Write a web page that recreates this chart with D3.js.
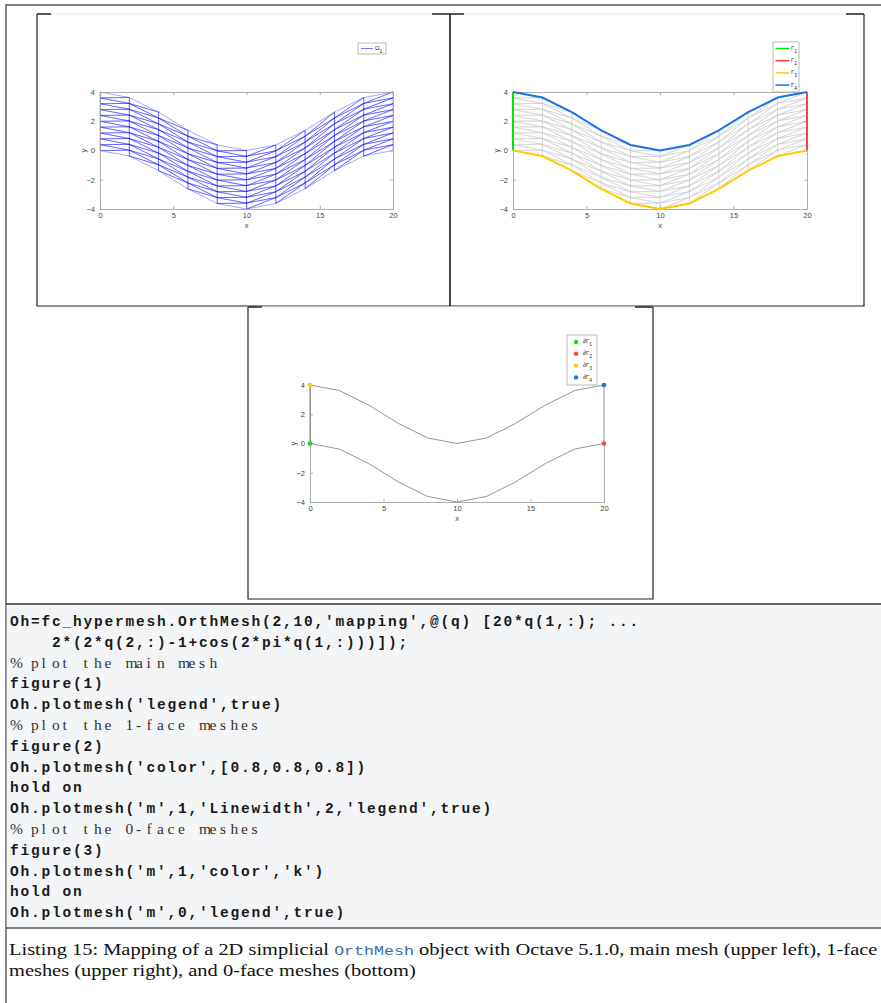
<!DOCTYPE html>
<html><head><meta charset="utf-8">
<script src="https://cdn.jsdelivr.net/npm/d3@7"></script>
<style>body{margin:0;background:#fff}svg{display:block}</style>
</head><body>
<svg id="c" width="881" height="1003"></svg>
<script>
// ---------- data ----------
const xNodes = [0, 2, 4, 6, 8, 10, 12, 14, 16, 18, 20];
const bottomY = [0, -0.38, -1.38, -2.62, -3.62, -4, -3.62, -2.62, -1.38, -0.38, 0];
const layerOffsets = [0, 0.4, 0.8, 1.2, 1.6, 2.0, 2.4, 2.8, 3.2, 3.6, 4.0];
const xTicks = [0, 5, 10, 15, 20];
const yTicks = [-4, -2, 0, 2, 4];
const faceSubs = ["1", "2", "3", "4"];
const faceColors = ["#00e600", "#ff4040", "#ffcc00", "#1a72e8"];
const pointX = [0, 20, 0, 20];
const pointY = [0, 0, 4, 4];
const codeLines = [
  "Oh=fc_hypermesh.OrthMesh(2,10,'mapping',@(q) [20*q(1,:); ...",
  "    2*(2*q(2,:)-1+cos(2*pi*q(1,:)))]);",
  "% plot the main mesh",
  "figure(1)",
  "Oh.plotmesh('legend',true)",
  "% plot the 1-face meshes",
  "figure(2)",
  "Oh.plotmesh('color',[0.8,0.8,0.8])",
  "hold on",
  "Oh.plotmesh('m',1,'Linewidth',2,'legend',true)",
  "% plot the 0-face meshes",
  "figure(3)",
  "Oh.plotmesh('m',1,'color','k')",
  "hold on",
  "Oh.plotmesh('m',0,'legend',true)"
];
const captionA = "Listing 15: Mapping of a 2D simplicial ";
const captionCode = "OrthMesh";
const captionB = " object with Octave 5.1.0, main mesh (upper left), 1-face";
const captionLine2 = "meshes (upper right), and 0-face meshes (bottom)";

// ---------- helpers ----------
const svg = d3.select("#c");
const nodeY = (i, j) => bottomY[i] + layerOffsets[j];
const triangles = [];
for (let i = 0; i < xNodes.length - 1; i++) {
  for (let j = 0; j < layerOffsets.length - 1; j++) {
    triangles.push([[i, j], [i + 1, j], [i + 1, j + 1]]);
    triangles.push([[i, j], [i + 1, j + 1], [i, j + 1]]);
  }
}
const fontSans = "Liberation Sans, Arial, sans-serif";

function makeScales(x0, x1, yTop, yBot) {
  return {
    x: d3.scaleLinear().domain([0, 20]).range([x0, x1]),
    y: d3.scaleLinear().domain([-4, 4]).range([yBot, yTop])
  };
}

function axes(g, s, opts) {
  const axCol = "#9a9a9a";
  const ax = g.append("g");
  const styleAx = sel => {
    sel.select(".domain").attr("stroke", axCol).attr("stroke-width", 0.8);
    sel.selectAll(".tick line").attr("stroke", axCol).attr("stroke-width", 0.8);
    sel.selectAll(".tick text").attr("fill", "#444").attr("font-size", 7.5)
      .attr("font-family", fontSans);
  };
  const [y0, y1] = s.y.range();
  const [x0, x1] = s.x.range();
  ax.append("g").attr("transform", `translate(0,${y0})`)
    .call(d3.axisBottom(s.x).tickValues(xTicks).tickSize(-3).tickPadding(4).tickSizeOuter(0))
    .call(styleAx);
  ax.append("g").attr("transform", `translate(${x0},0)`)
    .call(d3.axisLeft(s.y).tickValues(yTicks).tickSize(-3).tickPadding(5).tickSizeOuter(0))
    .call(styleAx);
  if (opts.box) {
    ax.append("g").attr("transform", `translate(0,${y1})`)
      .call(d3.axisTop(s.x).tickValues(xTicks).tickSize(-3).tickFormat("").tickSizeOuter(0))
      .call(styleAx);
  }
  ax.append("g").attr("transform", `translate(${x1},0)`)
    .call(d3.axisRight(s.y).tickValues(yTicks).tickSize(opts.box ? -3 : 0).tickFormat("").tickSizeOuter(0))
    .call(styleAx);
  g.append("text").attr("x", (x0 + x1) / 2).attr("y", y0 + 19).attr("text-anchor", "middle")
    .attr("font-size", 7.5).attr("fill", "#444").attr("font-family", fontSans).text("x");
  g.append("text").attr("transform", `translate(${x0 - 14},${(y0 + y1) / 2}) rotate(-90)`)
    .attr("text-anchor", "middle").attr("font-size", 7.5).attr("fill", "#444")
    .attr("font-family", fontSans).text("y");
}

function drawMesh(g, s, color, opacity, width) {
  const line = d3.line().x(d => s.x(xNodes[d[0]])).y(d => s.y(nodeY(d[0], d[1])));
  g.append("g").selectAll("path").data(triangles).join("path")
    .attr("d", t => line(t) + "Z")
    .attr("fill", "none").attr("stroke", color)
    .attr("stroke-opacity", opacity).attr("stroke-width", width);
}

function panelFrame(x0, y0, x1, y1) {
  const g = svg.append("g");
  g.append("path").attr("d", `M${x0},${y0}V${y1}H${x1}V${y0}`)
    .attr("fill", "none").attr("stroke", "#222").attr("stroke-width", 1.2);
  g.append("line").attr("x1", x0).attr("x2", x1).attr("y1", y0).attr("y2", y0)
    .attr("stroke", "#e8e8e8").attr("stroke-width", 1);
  g.append("path").attr("d", `M${x0},${y0}H${x0 + 14}M${x1 - 18},${y0}H${x1}`)
    .attr("stroke", "#222").attr("stroke-width", 1.6);
}

// ---------- page frame ----------
svg.append("path").attr("d", "M6,1003V5H881").attr("fill", "none")
  .attr("stroke", "#555").attr("stroke-width", 1.4);

panelFrame(37, 14, 450, 306);
panelFrame(450, 14, 864, 306);
panelFrame(248, 307, 653, 599);

// ---------- figure 1 ----------
{
  const s = makeScales(100, 393, 92, 209);
  const g = svg.append("g");
  drawMesh(g, s, "#0000ff", 0.5, 0.7);
  axes(g, s, {box: true});
  const lg = g.append("g");
  lg.append("rect").attr("x", 358).attr("y", 43).attr("width", 28).attr("height", 11)
    .attr("fill", "#fff").attr("stroke", "#aaa").attr("stroke-width", 0.8);
  lg.append("line").attr("x1", 361).attr("x2", 373).attr("y1", 48.5).attr("y2", 48.5)
    .attr("stroke", "#5555ff").attr("stroke-width", 0.8);
  const t = lg.append("text").attr("x", 375).attr("y", 50).attr("font-size", 6)
    .attr("font-family", fontSans).attr("fill", "#333");
  t.append("tspan").text("Ω");
  t.append("tspan").attr("dy", 2.5).attr("font-size", 5).text("1");
}

// ---------- figure 2 ----------
{
  const s = makeScales(513, 807, 92, 209);
  const g = svg.append("g");
  drawMesh(g, s, "#cccccc", 0.75, 0.7);
  axes(g, s, {box: true});
  const line = d3.line().x(d => s.x(d[0])).y(d => s.y(d[1]));
  const faces = [
    layerOffsets.map((o, j) => [xNodes[0], nodeY(0, j)]),
    layerOffsets.map((o, j) => [xNodes[xNodes.length - 1], nodeY(xNodes.length - 1, j)]),
    xNodes.map((x, i) => [x, nodeY(i, 0)]),
    xNodes.map((x, i) => [x, nodeY(i, layerOffsets.length - 1)])
  ];
  g.append("g").selectAll("path").data(faces).join("path")
    .attr("d", d => line(d)).attr("fill", "none")
    .attr("stroke", (d, i) => faceColors[i]).attr("stroke-width", 2);
  const lg = g.append("g");
  lg.append("rect").attr("x", 773).attr("y", 42).attr("width", 26).attr("height", 50)
    .attr("fill", "#fff").attr("stroke", "#aaa").attr("stroke-width", 0.8);
  faceSubs.forEach((sub, i) => {
    const yy = 48.5 + i * 12.2;
    lg.append("line").attr("x1", 775.5).attr("x2", 789.5).attr("y1", yy).attr("y2", yy)
      .attr("stroke", faceColors[i]).attr("stroke-width", 1.5);
    const t = lg.append("text").attr("x", 791).attr("y", yy + 1.5).attr("font-size", 6)
      .attr("font-family", fontSans).attr("fill", "#333");
    t.append("tspan").text("Γ");
    t.append("tspan").attr("dy", 3).attr("font-size", 5).text(sub);
  });
}

// ---------- figure 3 ----------
{
  const s = makeScales(310, 604, 385, 502);
  const g = svg.append("g");
  axes(g, s, {box: false});
  const line = d3.line().x(d => s.x(d[0])).y(d => s.y(d[1]));
  const last = xNodes.length - 1, top = layerOffsets.length - 1;
  g.append("path").attr("d", line(layerOffsets.map((o, j) => [xNodes[last], nodeY(last, j)])))
    .attr("fill", "none").attr("stroke", "#c8c8c8").attr("stroke-width", 1.8);
  g.append("path").attr("d", line(layerOffsets.map((o, j) => [xNodes[0], nodeY(0, j)])))
    .attr("fill", "none").attr("stroke", "#777").attr("stroke-width", 0.9);
  [0, top].forEach(j => {
    g.append("path").attr("d", line(xNodes.map((x, i) => [x, nodeY(i, j)])))
      .attr("fill", "none").attr("stroke", "#8a8a8a").attr("stroke-width", 0.9);
  });
  g.append("g").selectAll("circle").data(pointX).join("circle")
    .attr("cx", d => s.x(d)).attr("cy", (d, i) => s.y(pointY[i])).attr("r", 2.3)
    .attr("fill", (d, i) => faceColors[i]);
  const lg = g.append("g");
  lg.append("rect").attr("x", 567).attr("y", 335).attr("width", 30).attr("height", 50)
    .attr("fill", "#fff").attr("stroke", "#aaa").attr("stroke-width", 0.8);
  faceSubs.forEach((sub, i) => {
    const yy = 342 + i * 11.8;
    lg.append("circle").attr("cx", 576).attr("cy", yy).attr("r", 2.2).attr("fill", faceColors[i]);
    const t = lg.append("text").attr("x", 583).attr("y", yy + 1.2).attr("font-size", 6)
      .attr("font-family", fontSans).attr("fill", "#333");
    t.append("tspan").text("∂Γ");
    t.append("tspan").attr("dy", 3).attr("font-size", 5).text(sub);
  });
}

// ---------- listing ----------
const listTop = 604, listBot = 928;
svg.append("rect").attr("x", 6.7).attr("y", listTop).attr("width", 874.3).attr("height", listBot - listTop)
  .attr("fill", "#f4f5f6");
svg.append("line").attr("x1", 6).attr("x2", 881).attr("y1", listTop).attr("y2", listTop)
  .attr("stroke", "#333").attr("stroke-width", 1.4);
svg.append("line").attr("x1", 6).attr("x2", 881).attr("y1", listBot).attr("y2", listBot)
  .attr("stroke", "#555").attr("stroke-width", 1.4);

const colW = 10.5, codeX0 = 10, line0 = 626, lineH = 20.8;
const ly = d3.scaleLinear().domain([0, 1]).range([line0, line0 + lineH]);
codeLines.forEach((str, k) => {
  const isComment = str.trim().startsWith("%");
  const xs = Array.from(str, (c, i) => (codeX0 + i * colW).toFixed(1)).join(" ");
  svg.append("text").attr("x", xs).attr("y", ly(k))
    .attr("font-family", isComment ? "Liberation Serif, serif" : "Liberation Mono, DejaVu Sans Mono, monospace")
    .attr("font-weight", isComment ? "normal" : "bold")
    .attr("font-size", isComment ? 15.5 : 14.5)
    .attr("fill", isComment ? "#333" : "#1a1a1a")
    .text(str.replace(/ /g, "\u00a0"));
});

// ---------- caption ----------
const serif = "Liberation Serif, Times New Roman, serif";
const cap1 = svg.append("text").attr("x", 0).attr("y", 0)
  .attr("font-family", serif).attr("font-size", 16).attr("fill", "#111");
cap1.append("tspan").text(captionA);
cap1.append("tspan").attr("font-family", "Liberation Mono, monospace").attr("font-size", 13)
  .attr("fill", "#3a6ea5").text(captionCode);
cap1.append("tspan").text(captionB);
const w1 = cap1.node().getComputedTextLength();
const capX0 = 9, capW = 869;
const k = capW / w1;
cap1.attr("transform", `translate(${capX0},955) scale(${k},1)`);
svg.append("text").attr("transform", `translate(${capX0},976) scale(${k},1)`)
  .attr("font-family", serif).attr("font-size", 16).attr("fill", "#111").text(captionLine2);
</script>
</body></html>
